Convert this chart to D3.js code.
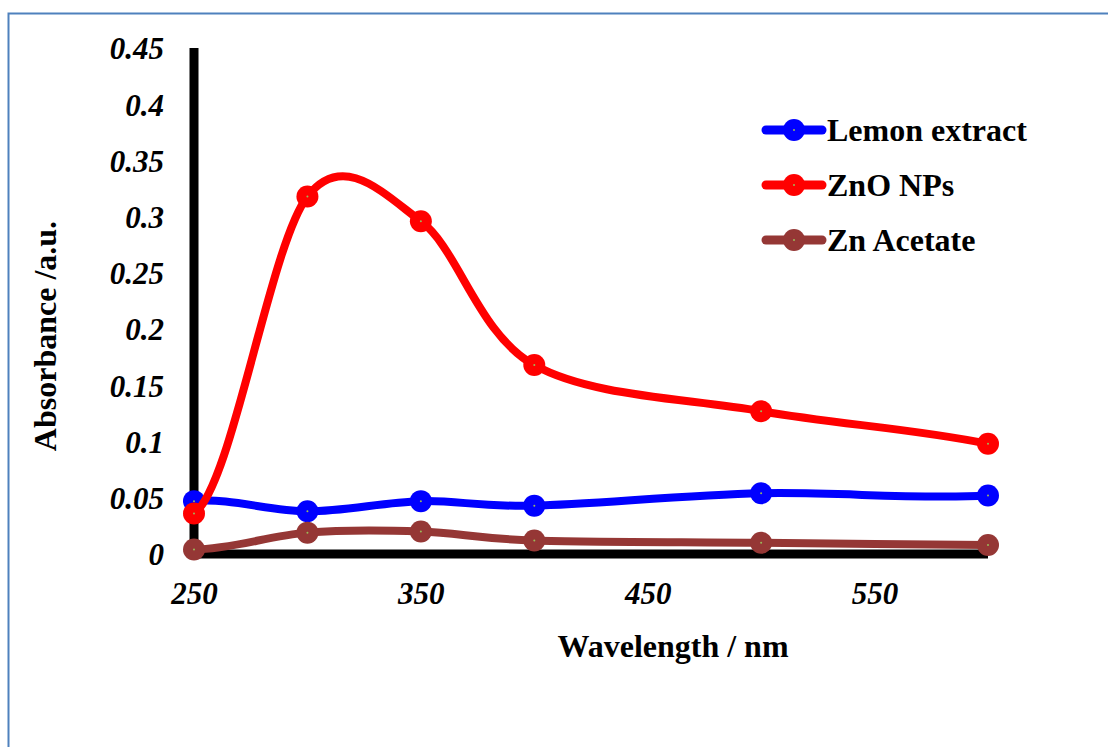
<!DOCTYPE html>
<html>
<head>
<meta charset="utf-8">
<script src="https://cdn.jsdelivr.net/npm/d3@7"></script>
<style>
  body { margin: 0; background: #fff; }
  svg text { font-family: "Liberation Serif", "Times New Roman", serif; font-weight: bold; fill: #000; }
</style>
</head>
<body>
<svg id="chart" width="1108" height="747"></svg>
<script>
'use strict';

var wavelengths = [250, 300, 350, 400, 500, 600];
var lemonExtract = [0.047, 0.038, 0.047, 0.043, 0.054, 0.052];
var znoNPs = [0.036, 0.318, 0.296, 0.168, 0.127, 0.098];
var znAcetate = [0.004, 0.019, 0.020, 0.012, 0.010, 0.008];

var seriesNames = ['Lemon extract', 'ZnO NPs', 'Zn Acetate'];
var seriesColors = ['#0000ff', '#ff0000', '#953735'];

var xTicks = [250, 350, 450, 550];
var yTicks = [0, 0.05, 0.1, 0.15, 0.2, 0.25, 0.3, 0.35, 0.4, 0.45];
var yTickLabels = ['0', '0.05', '0.1', '0.15', '0.2', '0.25', '0.3', '0.35', '0.4', '0.45'];

// spreadsheet-style smoothing: catmull-rom handles inside,
// end handles = end chord mirrored about the neighbour's tangent
function SmoothCurve(context) { this._context = context; }
SmoothCurve.prototype = {
  areaStart: function() {},
  areaEnd: function() {},
  lineStart: function() { this._pts = []; },
  point: function(x, y) { this._pts.push([+x, +y]); },
  lineEnd: function() {
    var p = this._pts, n = p.length, ctx = this._context, t = [], i;
    if (!n) return;
    ctx.moveTo(p[0][0], p[0][1]);
    if (n < 3) { for (i = 1; i < n; i++) ctx.lineTo(p[i][0], p[i][1]); return; }
    for (i = 0; i < n; i++) {
      if (i === 0 || i === n - 1) { t.push(null); continue; }
      t.push([(p[i + 1][0] - p[i - 1][0]) / 6, (p[i + 1][1] - p[i - 1][1]) / 6]);
    }
    function endHandle(chord, nb) {
      var len = Math.hypot(nb[0], nb[1]), ux = nb[0] / len, uy = nb[1] / len;
      var d = chord[0] * ux + chord[1] * uy;
      var rx = 2 * d * ux - chord[0], ry = 2 * d * uy - chord[1];
      var k = (chord[0] / 3) / rx;
      return [rx * k, ry * k];
    }
    t[0] = endHandle([p[1][0] - p[0][0], p[1][1] - p[0][1]], t[1]);
    t[n - 1] = endHandle([p[n - 1][0] - p[n - 2][0], p[n - 1][1] - p[n - 2][1]], t[n - 2]);
    for (i = 0; i < n - 1; i++) {
      var seg = Math.hypot(p[i + 1][0] - p[i][0], p[i + 1][1] - p[i][1]) / 2;
      var a = t[i], b = t[i + 1];
      var la = Math.hypot(a[0], a[1]), lb = Math.hypot(b[0], b[1]);
      var fa = la > seg ? seg / la : 1, fb = lb > seg ? seg / lb : 1;
      ctx.bezierCurveTo(
        p[i][0] + a[0] * fa, p[i][1] + a[1] * fa,
        p[i + 1][0] - b[0] * fb, p[i + 1][1] - b[1] * fb,
        p[i + 1][0], p[i + 1][1]);
    }
  }
};
function curveSmooth(context) { return new SmoothCurve(context); }

var svg = d3.select('#chart');

// outer frame like the source document
svg.append('rect')
  .attr('x', 8.5).attr('y', 13.5)
  .attr('width', 1120).attr('height', 760)
  .attr('fill', 'none')
  .attr('stroke', '#4f81bd')
  .attr('stroke-width', 2);

var x = d3.scaleLinear().domain([250, 600]).range([194, 988]);
var y = d3.scaleLinear().domain([0, 0.45]).range([554, 48]);

// y axis
var yAxis = svg.append('g')
  .attr('transform', 'translate(194,0)')
  .call(d3.axisLeft(y).tickValues(yTicks).tickSize(0).tickPadding(30)
    .tickFormat(function(d, i) { return yTickLabels[i]; }));
yAxis.select('.domain').remove();
yAxis.selectAll('text')
  .style('font-size', '31px').style('font-style', 'italic')
  .attr('font-family', null).attr('dy', '0.35em');

// x axis
var xAxis = svg.append('g')
  .attr('transform', 'translate(0,554)')
  .call(d3.axisBottom(x).tickValues(xTicks).tickSize(0).tickPadding(28)
    .tickFormat(d3.format('d')));
xAxis.select('.domain').remove();
xAxis.selectAll('text')
  .style('font-size', '31px').style('font-style', 'italic')
  .attr('font-family', null);

// thick axis lines
svg.append('line')
  .attr('x1', x(250)).attr('x2', x(250))
  .attr('y1', y(0.45)).attr('y2', y(0) + 5)
  .attr('stroke', '#000').attr('stroke-width', 9);
svg.append('line')
  .attr('x1', x(250) - 4.5).attr('x2', x(600))
  .attr('y1', y(0)).attr('y2', y(0))
  .attr('stroke', '#000').attr('stroke-width', 9);

// axis titles
svg.append('text')
  .attr('x', 673).attr('y', 657)
  .attr('text-anchor', 'middle')
  .style('font-size', '32px')
  .text('Wavelength / nm');
svg.append('text')
  .attr('transform', 'translate(56,336) rotate(-90)')
  .attr('text-anchor', 'middle')
  .style('font-size', '32px')
  .text('Absorbance /a.u.');

var line = d3.line()
  .x(function(d) { return x(d[0]); })
  .y(function(d) { return y(d[1]); })
  .curve(curveSmooth);

var allSeries = [lemonExtract, znoNPs, znAcetate].map(function(vals, i) {
  return {
    name: seriesNames[i],
    color: seriesColors[i],
    points: wavelengths.map(function(w, j) { return [w, vals[j]]; })
  };
});

var groups = svg.selectAll('g.series')
  .data(allSeries)
  .enter().append('g').attr('class', 'series');

groups.append('path')
  .attr('d', function(d) { return line(d.points); })
  .attr('fill', 'none')
  .attr('stroke', function(d) { return d.color; })
  .attr('stroke-width', 8)
  .attr('stroke-linecap', 'round');

var marks = groups.selectAll('g.mark')
  .data(function(d) { return d.points.map(function(p) { return { p: p, color: d.color }; }); })
  .enter().append('g').attr('class', 'mark')
  .attr('transform', function(d) { return 'translate(' + x(d.p[0]) + ',' + y(d.p[1]) + ')'; });
marks.append('circle')
  .attr('r', 11)
  .attr('fill', function(d) { return d.color; });
marks.append('circle')
  .attr('r', 1)
  .attr('fill', '#9bbb59');

// legend
var legend = svg.selectAll('g.legend')
  .data(allSeries)
  .enter().append('g').attr('class', 'legend')
  .attr('transform', function(d, i) { return 'translate(764,' + (130 + i * 55) + ')'; });

legend.append('line')
  .attr('x1', 2).attr('x2', 58)
  .attr('stroke', function(d) { return d.color; })
  .attr('stroke-width', 9)
  .attr('stroke-linecap', 'round');
legend.append('circle')
  .attr('cx', 30).attr('r', 11)
  .attr('fill', function(d) { return d.color; });
legend.append('circle')
  .attr('cx', 30).attr('r', 1)
  .attr('fill', '#9bbb59');
legend.append('text')
  .attr('x', 63).attr('dy', '0.35em')
  .style('font-size', '32px')
  .text(function(d) { return d.name; });
</script>
</body>
</html>
